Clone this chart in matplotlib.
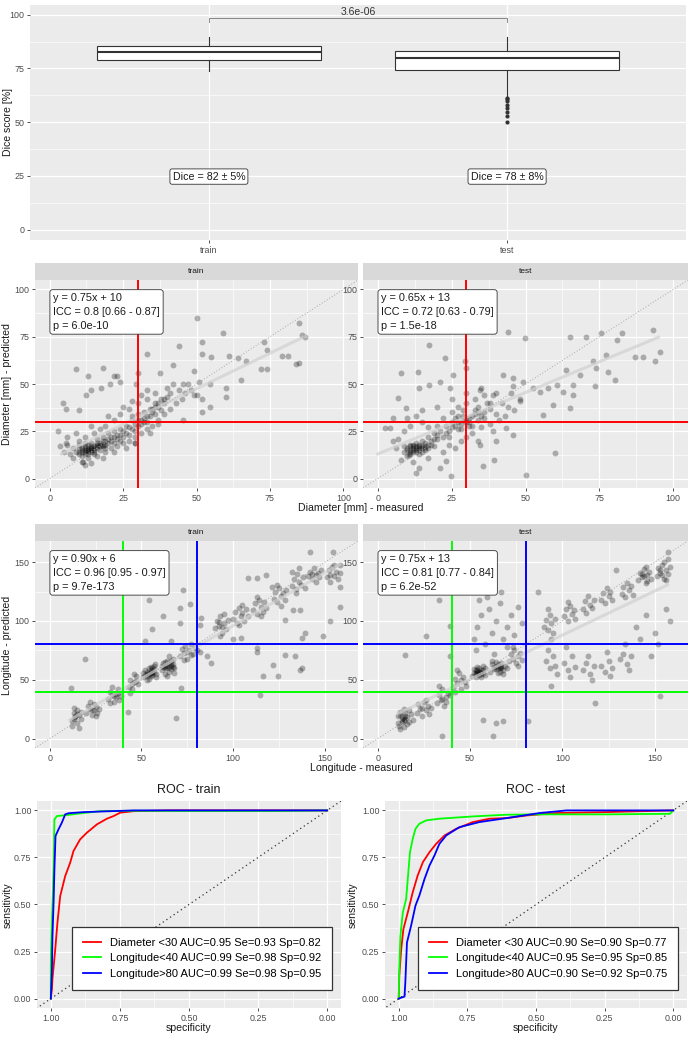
import numpy as np
import matplotlib
matplotlib.use("Agg")
import matplotlib.pyplot as plt

plt.rcParams['font.family'] = ['Liberation Sans', 'DejaVu Sans']

W, H = 691, 1038

# ---- data: dice boxplot ----
groups = ['train', 'test']
box_med = [82.7, 79.9]
box_q1 = [78.8, 74.3]
box_q3 = [85.5, 83.0]
box_lo = [73.7, 61.6]
box_hi = [89.8, 89.5]
test_outliers = [61.2, 60.8, 59.7, 58.2, 56.5, 54.6, 53.0, 50.2]
dice_labels = ['Dice = 82 ± 5%', 'Dice = 78 ± 8%']
p_value = '3.6e-06'

# ---- data: diameter (measured, predicted) ----
diam_train = [
    (9,14),(10,13),(10,16),(11,15),(11,12),(12,14),(12,17),(13,15),(13,13),(14,16),(14,14),(15,17),
    (15,15),(15,13),(16,16),(16,18),(17,15),(17,19),(18,17),(18,20),(19,18),(19,16),(20,19),(20,21),
    (21,20),(22,22),(22,19),(23,21),(24,23),(24,20),(25,22),(26,24),(27,23),(28,26),(29,25),(30,28),
    (30,31),(31,29),(32,32),(33,30),(34,33),(35,35),(36,38),(37,40),(38,42),(39,40),(40,43),(41,45),
    (38,36),(36,34),(34,37),(32,35),(30,34),(28,31),(26,28),(24,26),(22,25),(20,24),(18,22),(16,21),
    (14,19),(12,19),(10,18),(8,16),(7,13),(8,11),(13,11),(16,12),(19,14),(21,16),(23,17),(25,19),
    (27,20),(29,22),(31,24),(33,26),(35,28),(37,31),(39,34),(41,37),(43,40),(45,42),(44,47),(46,45),
    (48,47),(47,50),(50,44),(42,50),(40,48),(36,45),(33,42),(30,40),(27,37),(24,34),(22,31),(19,28),
    (17,26),(15,24),(12,22),(10,20),(6,18),(6,22),(5,14),(9,24),(14,28),(20,33),(25,38),(28,41),
    (31,44),(37,29),(34,24),(29,19),(26,16),(22,14),(18,11),(11,9),(14,8),(12,7),
    (11,14),(12,15),(13,16),(14,15),(12,13),(13,14),(15,16),(14,17),(16,17),(11,16),(10,14),(17,17),
    (18,18),(13,18),(15,14),(12,16),(13,15),(14,16),(16,19),(17,18),(19,20),(21,22),(23,23),(25,25),
    (27,27),(29,29),(31,31),(33,33),(35,37),(37,38),(39,42),(28,33),(32,30),(36,40),
    (50,85),(59,77),(85,82),(73,72),(44,70),(52,72),(52,66),(33,66),(55,64.5),(61,65),(64,64),
    (67,62),(74,68),(79,65),(81,65),(84,60.5),(85,61),(72,58),(74,58),(42,60),(49,57),(9,58),
    (18,58.5),(13,54),(22,54),(23,54),(30,56),(37.5,56),(45.5,50),(51,51),(54.5,50),(60,48),
    (65,52),(49,44),(52,42),(54.5,38),(60,43),(4.5,40),(5.7,37),(3,25),(10,36),(12.5,44),(14,47),
    (17.6,48),(20.5,50),(24,51),(29.5,50),(33,47),(52,35),(45.5,31),(11.4,9),(5.7,19),(3.4,17),
    (29,19),(87,75),(86,76),
]
diam_test = [
    (9,14),(10,16),(11,13),(12,17),(13,15),(14,18),(15,14),(16,19),(17,16),(18,20),(19,17),(20,21),
    (10,12),(12,14),(14,16),(16,15),(11,18),(13,19),(15,20),(17,22),(12,16),(14,13),(18,18),(9,17),
    (13,17),(11,15),(12,15),(13,16),(14,15),(15,17),(16,17),(10,15),(11,14),(12,18),(14,17),(16,16),
    (13,14),(15,16),(17,18),(11,17),
    (22,22),(24,25),(26,28),(28,26),(30,30),(32,33),(34,31),(36,35),(38,37),(40,34),(42,40),(44,38),
    (20,28),(22,32),(25,35),(27,38),(30,40),(33,42),(36,44),(24,18),(28,20),(32,24),(35,27),(38,29),
    (41,31),(29,33),(31,28),(33,36),(27,30),(23,28),(21,25),(19,24),(17,27),(15,30),(13,33),(11,28),
    (9,25),(7,21),(6,16),(8,10),(12,9),(17,11),(22,14),(26,16),(30,22),(34,20),(39,25),(43,33),
    (46,36),(48,42),(40,45),(35,48),(30,45),(25,42),(20,38),(15,36),(10,32),(5,20),(26,32),(29,36),
    (31,32),(34,38),(37,40),(45,45),(28,29),(30,32),(31,30),(29,31),(25,27),(27,26),(33,34),(35,33),
    (23,24),(25,30),(27,33),(32,28),(34,35),(36,32),(38,40),(24,22),(20,23),(19,21),
    (17.5,70.6),(44,77.7),(49.7,74.2),(65,75),(70.6,75),(75.7,76.8),(80.8,73.3),(82.5,76.8),(93.2,78.6),
    (95.5,67),(93.8,61.9),(87,64.5),(89.8,64.5),(77.4,65.4),(72.9,61.9),(78,56.6),(80.3,52.2),(74,58.3),
    (68.4,54.8),(63.8,57.5),(60.5,49.6),(57.6,47.8),(66,49.6),(62.7,46),(66,44.3),(73.4,48.7),(59.3,39),
    (65,37.3),(56,33.7),(59.9,13.5),(50.3,2.1),(35.6,6.5),(39.5,10),(24.9,1.2),(7.9,55.7),(13.6,56.2),
    (22.6,63.6),(29.4,61.9),(29.9,58.3),(25.4,54.8),(4,26.7),(2.3,26.7),(5,32),(9.6,37.3),(6.8,42.5),
    (14.1,47.8),(17.5,49.6),(20.9,51.3),(24.3,47.8),(34.5,46.9),(38.9,44.3),(42.4,54.8),(45.8,53),
    (45.8,48.7),(49.2,51.3),(52.5,47.8),(54.8,46),(48,40.8),(45.8,23.2),(43.5,26.7),(40.1,19.7),
    (34.5,17.9),(20.9,5.6),(23.2,9.1),(14.1,5.6),(13,3),(10.7,12.7),
]

# ---- data: longitude (measured, predicted) ----
long_train = [
    (12,15),(13,22),(14,18),(15,13),(16,20),(17,17),(13,26),(15,24),(12,11),(16,9),(14,19),(17,23),(13,17),(15,21),
    (20,22),(21,28),(22,25),(23,20),(24,24),(25,27),(26,22),(22,31),(25,19),(27,25),(23,24),(24,29),
    (32,34),(33,40),(34,37),(35,31),(36,35),(37,39),(38,33),(34,44),(36,38),(39,36),(33,30),(37,42),(35,36),
    (43,44),(44,50),(45,42),(46,48),(47,53),(48,46),(44,39),(46,55),(47,49),(45,46),
    (51,52),(52,58),(53,55),(54,60),(55,53),(56,57),(57,62),(58,55),(53,50),(55,58),(56,54),(54,56),(52,54),
    (57,59),(55,61),(53,57),(58,52),(56,60),(54,51),(51,56),(55,56),(54,55),(56,56),(53,53),(57,57),
    (61,58),(62,64),(63,60),(64,66),(65,57),(66,62),(67,68),(68,60),(63,55),(65,64),(66,59),(64,62),(62,61),
    (67,63),(65,70),(63,65),(68,56),(66,66),(64,53),(61,62),(65,61),(64,60),(66,63),(63,62),(67,61),
    (71,70),(72,76),(73,73),(74,79),(75,68),(76,75),(77,80),(78,72),(79,77),(73,67),(75,74),(77,71),(80,75),
    (90,94),(91,100),(92,96),(93,104),(94,90),(95,98),(96,93),(97,101),(93,87),(95,106),(92,99),(94,95),
    (100,102),(101,108),(102,98),(103,111),(104,104),(105,107),(106,100),(107,110),(108,104),(103,97),(105,114),
    (111,109),(112,115),(113,106),(114,118),(115,112),(116,108),(117,116),(118,111),(113,120),(115,104),
    (122,119),(123,125),(124,116),(125,128),(126,121),(127,124),(128,118),(129,126),(124,131),(126,113),
    (132,130),(133,136),(134,127),(135,140),(136,133),(137,131),(138,137),(134,124),(136,145),(139,128),
    (141,138),(142,142),(143,136),(144,145),(145,139),(146,141),(147,137),(148,143),(143,140),(145,133),
    (151,137),(152,143),(153,139),(154,146),(155,138),(156,142),(157,136),(158,141),(153,133),(155,148),
    (11.8,43),(19,68),(42.7,22.4),(54,117.5),(72.4,126.5),(71,111),(76.4,114.6),(82.7,102.5),(61.8,104),
    (55.5,93.4),(71,98),(66,82.6),(51.8,83.2),(57.3,63.7),(68.7,17.5),(71.8,43),(81.8,96.8),(85.5,70),
    (88,64),(100,84.6),(104.5,85.5),(112.7,77),(112.7,73.3),(114.5,37.4),(121.8,62.8),(124.5,53),
    (116.4,53),(128,71.3),(133.6,70),(136.4,58.6),(137.3,60),(137.3,85.5),(139,89.7),(149,87),
    (152.7,99.6),(136.4,109.5),(141.8,159),(154.5,159),(158,147.7),(158,129),(158,112),(131.8,142),
    (118,139),(121,129),(112.7,136.4),(108,136.4),(81.8,74),(128,101),(132.7,109.5),
]
long_test = [
    (11,13),(12,20),(13,16),(14,10),(15,22),(16,18),(17,14),(18,21),(12,8),(14,25),(16,12),(13,18),(15,17),
    (11,19),(17,24),(14,15),(19,16),(12,23),(14,17),(15,19),(13,14),
    (21,22),(22,29),(23,25),(24,19),(25,31),(26,24),(27,28),(28,21),(24,26),(26,33),(29,26),
    (32,30),(33,37),(34,33),(35,42),(36,28),(37,35),(38,39),(33,45),(35,34),(37,31),(39,37),
    (41,44),(42,51),(43,47),(44,56),(45,42),(46,52),(47,48),(43,58),(45,50),(48,45),(42,40),
    (51,53),(52,59),(53,55),(54,61),(55,54),(56,58),(57,56),(58,60),(53,52),(55,57),(56,55),(54,58),
    (52,56),(57,62),(55,60),(53,58),(58,54),(56,52),(54,57),(55,56),(56,57),(53,56),(57,58),
    (61,57),(62,63),(63,59),(64,65),(65,56),(66,61),(67,64),(68,58),(69,62),(63,61),(65,63),(66,57),
    (64,59),(67,60),(62,66),(68,55),(70,60),(65,60),(66,60),(64,62),(67,62),
    (71,66),(72,72),(73,68),(74,75),(75,64),(76,70),(77,73),(78,67),(73,78),(76,62),
    (52,85),(54,95),(56,105),(58,80),(60,110),(62,90),(64,100),(66,115),(68,85),(70,95),(72,105),(74,88),
    (76,112),(78,98),(55,118),(63,72),(70,78),(59,120),(67,125),(53,75),
    (90,95),(91,101),(92,92),(93,105),(94,98),(95,90),(96,102),(92,110),(94,85),
    (91,66),(93,60),(95,70),(97,55),(92,75),(96,62),(94,45),
    (101,104),(102,110),(103,100),(104,113),(105,106),(106,109),(107,102),(103,116),
    (101,64),(103,58),(105,70),(107,61),(104,52),(102,78),
    (111,110),(112,117),(113,107),(114,121),(115,114),(116,111),(117,118),
    (111,58),(113,64),(115,55),(117,62),(114,70),(116,50),
    (121,118),(122,124),(123,115),(124,128),(125,121),(126,125),(127,118),
    (121,62),(123,57),(125,66),(127,60),(124,74),(126,53),
    (132,123),(133,129),(134,120),(135,132),(136,126),(137,130),(138,122),
    (131,68),(133,72),(135,63),(137,70),(134,80),(136,58),
    (141,135),(142,141),(143,137),(144,144),(145,132),(146,139),(147,142),(148,136),(143,140),(145,146),
    (144,138),(146,134),
    (151,138),(152,145),(153,141),(154,148),(155,136),(156,143),(157,140),(158,146),(153,143),(155,150),
    (154,139),(156,135),
    (140,95),(145,105),(150,90),(152,80),(148,70),(156,110),(142,85),(158,100),
    (62.4,2),(64,13),(67.8,14.7),(81.3,14.7),(57,16),(35,2),(11.7,10.5),(117.5,30),(152.7,36),(38.9,70),
    (14.5,70.8),(26.2,87.5),(38.9,95.4),(33.4,117.5),(86.8,125),(129,143.5),(157,159),(157,153),
]

# fits shown on the panels: (slope, intercept, x_start, x_end)
fit_diam_train = (0.75, 10, 4, 87)
fit_diam_test = (0.65, 13, 0, 95)
fit_long_train = (0.90, 6, 11, 158)
fit_long_test = (0.75, 13, 11, 157)
lab_diam_train = 'y = 0.75x + 10\nICC = 0.8 [0.66 - 0.87]\np = 6.0e-10'
lab_diam_test = 'y = 0.65x + 13\nICC = 0.72 [0.63 - 0.79]\np = 1.5e-18'
lab_long_train = 'y = 0.90x + 6\nICC = 0.96 [0.95 - 0.97]\np = 9.7e-173'
lab_long_test = 'y = 0.75x + 13\nICC = 0.81 [0.77 - 0.84]\np = 6.2e-52'

# ---- data: ROC curves (specificity, sensitivity) ----
roc_tr_diam_sp = [1.0, 0.996, 0.994, 0.984, 0.976, 0.966, 0.948, 0.930, 0.918, 0.894, 0.870, 0.833, 0.797, 0.773, 0.749, 0.700, 0.58, 0.0]
roc_tr_diam_se = [0.0, 0.05, 0.106, 0.262, 0.404, 0.545, 0.651, 0.722, 0.784, 0.846, 0.881, 0.926, 0.956, 0.970, 0.988, 0.996, 1.0, 1.0]
roc_tr_l40_sp = [1.0, 1.0, 0.999, 0.996, 0.993, 0.990, 0.988, 0.987, 0.978, 0.942, 0.906, 0.821, 0.70, 0.5, 0.18, 0.0]
roc_tr_l40_se = [0.0, 0.17, 0.26, 0.41, 0.545, 0.687, 0.864, 0.952, 0.97, 0.975, 0.982, 0.996, 0.998, 0.997, 0.997, 1.0]
roc_tr_l80_sp = [1.0, 0.996, 0.994, 0.990, 0.987, 0.983, 0.972, 0.960, 0.948, 0.936, 0.882, 0.70, 0.0]
roc_tr_l80_se = [0.0, 0.156, 0.333, 0.51, 0.687, 0.864, 0.9, 0.935, 0.979, 0.985, 0.991, 1.0, 1.0]

roc_te_diam_sp = [1.0, 0.998, 0.991, 0.983, 0.967, 0.949, 0.931, 0.912, 0.888, 0.864, 0.833, 0.791, 0.730, 0.669, 0.608, 0.535, 0.426, 0.243, 0.0]
roc_te_diam_se = [0.0, 0.121, 0.263, 0.369, 0.458, 0.565, 0.654, 0.725, 0.778, 0.822, 0.867, 0.902, 0.938, 0.956, 0.959, 0.973, 0.986, 0.991, 1.0]
roc_te_l40_sp = [1.0, 0.998, 0.994, 0.985, 0.973, 0.967, 0.959, 0.949, 0.939, 0.925, 0.900, 0.852, 0.730, 0.608, 0.487, 0.243, 0.012, 0.0]
roc_te_l40_se = [0.0, 0.156, 0.334, 0.458, 0.529, 0.636, 0.778, 0.849, 0.902, 0.929, 0.947, 0.956, 0.968, 0.977, 0.979, 0.979, 0.982, 1.0]
roc_te_l80_sp = [1.0, 0.979, 0.976, 0.970, 0.955, 0.939, 0.925, 0.906, 0.888, 0.870, 0.852, 0.827, 0.779, 0.706, 0.608, 0.487, 0.389, 0.0]
roc_te_l80_se = [0.0, 0.011, 0.085, 0.298, 0.387, 0.494, 0.547, 0.636, 0.707, 0.760, 0.822, 0.867, 0.911, 0.938, 0.959, 0.986, 1.0, 1.0]

roc_names = ['Diameter <30', 'Longitude<40', 'Longitude>80']
roc_train_stats = ['AUC=0.95 Se=0.93 Sp=0.82', 'AUC=0.99 Se=0.98 Sp=0.92', 'AUC=0.99 Se=0.98 Sp=0.95']
roc_test_stats = ['AUC=0.90 Se=0.90 Sp=0.77', 'AUC=0.95 Se=0.95 Sp=0.85', 'AUC=0.90 Se=0.92 Sp=0.75']

# ---------------------------------------------------------------
fig = plt.figure(figsize=(W / 100, H / 100), dpi=100)


def px_axes(l, t, r, b):
    return fig.add_axes([l / W, 1 - b / H, (r - l) / W, (b - t) / H])


def gg(ax, major, minor, xmaj=None, xmin=None):
    ax.set_facecolor('#EBEBEB')
    for s in ax.spines.values():
        s.set_visible(False)
    ax.set_yticks(major)
    ax.set_yticks(minor, minor=True)
    ax.set_xticks(xmaj if xmaj is not None else major)
    ax.set_xticks(xmin if xmin is not None else minor, minor=True)
    ax.grid(which='major', color='white', lw=0.9)
    ax.grid(which='minor', color='white', lw=0.45)
    ax.set_axisbelow(True)
    ax.tick_params(which='major', length=2.5, width=0.6, color='#333333',
                   labelsize=6.4, labelcolor='#4D4D4D', pad=1.5)
    ax.tick_params(which='minor', length=0)


def fig_text(x, y, s, **kw):
    fig.text(x / W, 1 - y / H, s, ha='center', va='center', **kw)


def strip(l, t, r, b, label):
    sa = px_axes(l, t, r, b)
    sa.set_facecolor('#D9D9D9')
    sa.set_xticks([]); sa.set_yticks([])
    for s in sa.spines.values():
        s.set_visible(False)
    sa.text(0.5, 0.5, label, transform=sa.transAxes, ha='center', va='center',
            fontsize=6.0, color='#1A1A1A')


box_kw = dict(boxstyle='round,pad=0.3,rounding_size=0.25', facecolor='white',
              edgecolor='#333333', lw=0.6)

# ---- row 1: dice boxplot ----
ax = px_axes(30, 5, 686, 240)
stats = []
for i, g in enumerate(groups):
    stats.append(dict(med=box_med[i], q1=box_q1[i], q3=box_q3[i], whislo=box_lo[i],
                      whishi=box_hi[i], fliers=test_outliers if g == 'test' else [], label=g))
ax.bxp(stats, positions=[1, 2], widths=0.75, patch_artist=True, showcaps=False,
       manage_ticks=False,
       boxprops=dict(facecolor='white', edgecolor='#333333', lw=0.8),
       medianprops=dict(color='#333333', lw=1.5),
       whiskerprops=dict(color='#333333', lw=0.8),
       flierprops=dict(marker='o', markersize=3, markerfacecolor='#333333',
                       markeredgecolor='none'))
gg(ax, [0, 25, 50, 75, 100], [12.5, 37.5, 62.5, 87.5], xmaj=[1, 2], xmin=[])
ax.set_xticklabels(groups)
ax.set_xlim(0.4, 2.6)
ax.set_ylim(-4.8, 104.5)
ax.plot([1, 1, 2, 2], [96.4, 98.5, 98.5, 96.4], color='#777777', lw=0.6)
ax.text(1.5, 98.9, p_value, ha='center', va='bottom', fontsize=7.5, color='#333333')
for i, lab in enumerate(dice_labels):
    ax.text(i + 1, 24.7, lab, ha='center', va='center', fontsize=7.7, color='#1A1A1A',
            bbox=dict(boxstyle='round,pad=0.25,rounding_size=0.2', facecolor='white',
                      edgecolor='#333333', lw=0.6))
fig_text(8, 122, 'Dice score [%]', rotation=90, fontsize=7.6, color='#1A1A1A')


# ---- scatter panels ----
def scatter_panel(box, pts, fit, label, lim, major, minor, thr):
    a = px_axes(*box)
    gg(a, major, minor)
    x, y = np.array(pts).T
    a.scatter(x, y, s=18, c='black', alpha=0.28, lw=0, zorder=2)
    k, b0, x0, x1 = fit
    a.plot([x0, x1], [k * x0 + b0, k * x1 + b0], color='#D0D0D0', lw=2.2, alpha=0.7, zorder=3)
    a.axline((0, 0), slope=1, color='#A8A8A8', ls=(0, (1, 2)), lw=0.7, zorder=3)
    for val, col in thr:
        a.axvline(val, color=col, lw=1.4, zorder=4)
        a.axhline(val, color=col, lw=1.4, zorder=4)
    a.set_xlim(*lim)
    a.set_ylim(*lim)
    top = lim[1] - (lim[1] - lim[0]) / 22
    a.annotate(label, xy=(0, top), xytext=(2.5, -2.5), textcoords='offset points',
               ha='left', va='top', fontsize=7.8, color='#1A1A1A', linespacing=1.5,
               bbox=box_kw, zorder=6)
    return a


d_major, d_minor = [0, 25, 50, 75, 100], [12.5, 37.5, 62.5, 87.5]
scatter_panel((35, 280, 358, 488), diam_train, fit_diam_train, lab_diam_train,
              (-5, 105), d_major, d_minor, [(30, '#FF0000')])
scatter_panel((363, 280, 688, 488), diam_test, fit_diam_test, lab_diam_test,
              (-5, 105), d_major, d_minor, [(30, '#FF0000')])
strip(35, 263, 358, 280, 'train')
strip(363, 263, 688, 280, 'test')
fig_text(7, 384, 'Diameter [mm] - predicted', rotation=90, fontsize=7.6, color='#1A1A1A')
fig_text(361, 508, 'Diameter [mm] - measured', fontsize=7.6, color='#1A1A1A')

l_major, l_minor = [0, 50, 100, 150], [25, 75, 125]
scatter_panel((35, 541, 358, 748), long_train, fit_long_train, lab_long_train,
              (-8, 168), l_major, l_minor, [(40, '#00FF00'), (80, '#0000FF')])
scatter_panel((363, 541, 688, 748), long_test, fit_long_test, lab_long_test,
              (-8, 168), l_major, l_minor, [(40, '#00FF00'), (80, '#0000FF')])
strip(35, 524, 358, 541, 'train')
strip(363, 524, 688, 541, 'test')
fig_text(7, 645, 'Longitude - predicted', rotation=90, fontsize=7.6, color='#1A1A1A')
fig_text(361, 768, 'Longitude - measured', fontsize=7.6, color='#1A1A1A')


# ---- ROC panels ----
def roc_panel(box, curves, stats, title, cx, ylab_x):
    a = px_axes(*box)
    r_major, r_minor = [0, 0.25, 0.5, 0.75, 1.0], [0.125, 0.375, 0.625, 0.875]
    gg(a, r_major, r_minor)
    a.set_xlim(1.05, -0.05)
    a.set_ylim(-0.05, 1.05)
    a.set_xticklabels(['0.00', '0.25', '0.50', '0.75', '1.00'])
    a.set_yticklabels(['0.00', '0.25', '0.50', '0.75', '1.00'])
    a.axline((1, 0), (0, 1), color='#333333', ls=(0, (1, 2.5)), lw=0.9, zorder=2)
    cols = ['#FF0000', '#00FF00', '#0000FF']
    for (sp, se), col, nm, st in zip(curves, cols, roc_names, stats):
        a.plot(sp, se, color=col, lw=1.3, label=nm + ' ' + st, zorder=3)
    leg = a.legend(loc='lower right', bbox_to_anchor=(0.97, 0.087), borderaxespad=0,
                   fontsize=8.0, frameon=True, fancybox=False, handlelength=1.6,
                   handletextpad=0.8, borderpad=1.0, labelspacing=0.5)
    leg.get_frame().set_edgecolor('#333333')
    leg.get_frame().set_linewidth(0.9)
    leg.get_frame().set_facecolor('white')
    leg.get_frame().set_alpha(1)
    fig_text(cx, 790, title, fontsize=9, color='#1A1A1A')
    fig_text(cx, 1028, 'specificity', fontsize=7.6, color='#1A1A1A')
    fig_text(ylab_x, 905, 'sensitivity', rotation=90, fontsize=7.6, color='#1A1A1A')


roc_panel((37, 801, 341, 1008),
          [(roc_tr_diam_sp, roc_tr_diam_se), (roc_tr_l40_sp, roc_tr_l40_se), (roc_tr_l80_sp, roc_tr_l80_se)],
          roc_train_stats, 'ROC - train', 189, 8)
roc_panel((385, 801, 687, 1008),
          [(roc_te_diam_sp, roc_te_diam_se), (roc_te_l40_sp, roc_te_l40_se), (roc_te_l80_sp, roc_te_l80_se)],
          roc_test_stats, 'ROC - test', 536, 353)

fig.savefig('out.png', dpi=100)
